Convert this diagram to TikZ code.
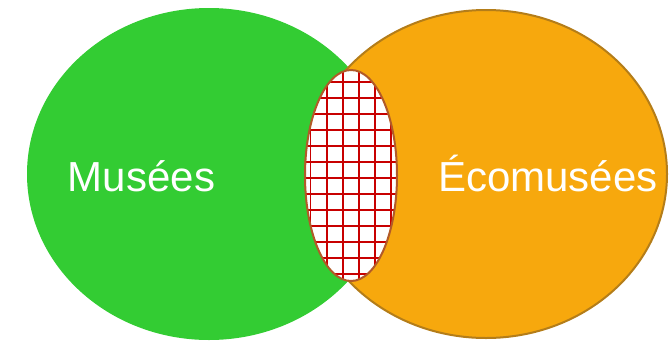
\documentclass[tikz,border=0pt]{standalone}
\usepackage{fontspec}
\setmainfont{Liberation Sans}
\definecolor{vgreen}{RGB}{51,204,51}
\definecolor{vorange}{RGB}{247,168,13}
\definecolor{vorangeline}{RGB}{180,125,25}
\definecolor{lensline}{RGB}{178,90,40}
\definecolor{gridred}{RGB}{200,0,0}
\tikzset{
  setlabel/.style={text=white, font=\fontsize{42}{48}\selectfont, anchor=base, inner sep=0pt},
}
\begin{document}
\begin{tikzpicture}[x=1pt,y=-1pt]
\useasboundingbox (0,0) rectangle (671,340);
% green set
\fill[vgreen] (209,174) ellipse [x radius=182, y radius=166];
% orange set
\filldraw[fill=vorange, draw=vorangeline, line width=2pt] (486,174) ellipse [x radius=181, y radius=164];
% intersection lens with grid
\begin{scope}
  \clip (351,175.5) ellipse [x radius=46, y radius=105.5];
  \fill[white] (300,60) rectangle (400,290);
  \foreach \i in {-1,...,6} {
    \draw[gridred, line width=1.5pt] (310.7+16.06*\i,60) -- (310.7+16.06*\i,290);
  }
  \foreach \j in {-1,...,13} {
    \draw[gridred, line width=1.5pt] (300,82+16*\j) -- (400,82+16*\j);
  }
\end{scope}
\draw[lensline, line width=2pt] (351,175.5) ellipse [x radius=46, y radius=105.5];
% labels
\node[setlabel] (musees) at (141.5,191) {Musées};
\node[setlabel] (ecomusees) at (548,191) {Écomusées};
\end{tikzpicture}
\end{document}
